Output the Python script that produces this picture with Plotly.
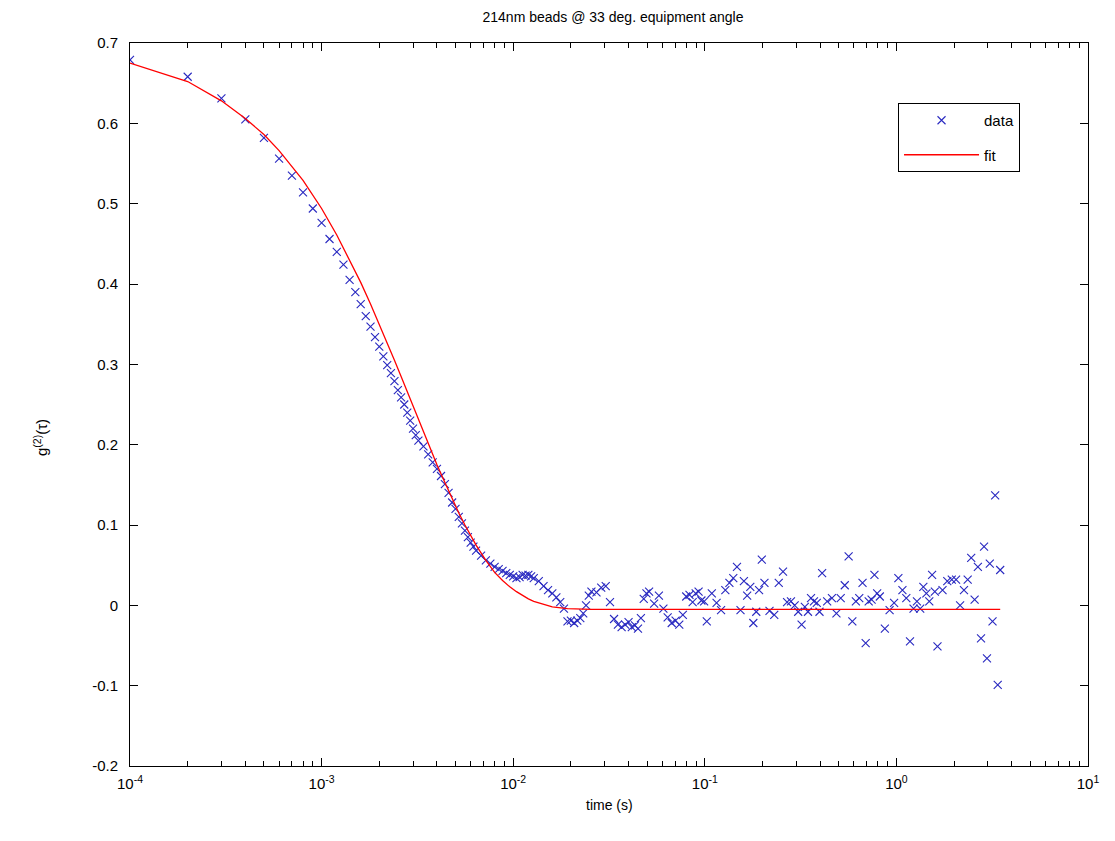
import plotly.graph_objects as go

# lag channels in units of 0.1 ms (multi-tau correlator grid)
lag_data = [1, 2, 3, 4, 5, 6, 7, 8, 9, 10, 11, 12, 13, 14, 15, 16,
            17, 18, 19, 20, 21, 22, 23, 24, 25, 26, 27, 28, 29, 30, 31, 32,
            34, 36, 38, 40, 42, 44, 46, 48, 50, 52, 54, 56, 58, 60, 62, 64,
            68, 72, 76, 80, 84, 88, 92, 96, 100, 104, 108, 112, 116, 120, 124, 128,
            136, 144, 152, 160, 168, 176, 184, 192, 200, 208, 216, 224, 232, 240, 248, 256,
            272, 288, 304, 320, 336, 352, 368, 384, 400, 416, 432, 448, 464, 480, 496, 512,
            544, 576, 608, 640, 672, 704, 736, 768, 800, 832, 864, 896, 928, 960, 992, 1024,
            1088, 1152, 1216, 1280, 1344, 1408, 1472, 1536, 1600, 1664, 1728, 1792, 1856, 1920, 1984, 2048,
            2176, 2304, 2432, 2560, 2688, 2816, 2944, 3072, 3200, 3328, 3456, 3584, 3712, 3840, 3968, 4096,
            4352, 4608, 4864, 5120, 5376, 5632, 5888, 6144, 6400, 6656, 6912, 7168, 7424, 7680, 7936, 8192,
            8704, 9216, 9728, 10240, 10752, 11264, 11776, 12288, 12800, 13312, 13824, 14336, 14848, 15360, 15872, 16384,
            17408, 18432, 19456, 20480, 21504, 22528, 23552, 24576, 25600, 26624, 27648, 28672, 29696, 30720, 31744, 32768,
            33792, 34816]

g2_data = [0.679, 0.658, 0.631, 0.605, 0.582, 0.556, 0.535, 0.514, 0.494, 0.476, 0.456, 0.440, 0.424, 0.405, 0.390, 0.375,
           0.360, 0.347, 0.334, 0.322, 0.310, 0.299, 0.289, 0.279, 0.268, 0.259, 0.250, 0.240, 0.230, 0.220, 0.212, 0.205,
           0.198, 0.188, 0.178, 0.170, 0.161, 0.151, 0.140, 0.128, 0.120, 0.110, 0.102, 0.093, 0.085, 0.078, 0.073, 0.068,
           0.062, 0.056, 0.052, 0.048, 0.045, 0.043, 0.040, 0.038, 0.036, 0.034, 0.035, 0.038, 0.037, 0.038, 0.036, 0.034,
           0.030, 0.024, 0.019, 0.015, 0.010, 0.004, -0.004, -0.020, -0.019, -0.022, -0.019, -0.016, -0.010, 0.000, 0.012, 0.017,
           0.016, 0.022, 0.024, 0.004, -0.017, -0.024, -0.027, -0.024, -0.021, -0.027, -0.025, -0.029, -0.016, 0.008, 0.015, 0.017,
           0.002, 0.012, -0.004, -0.015, -0.022, -0.019, -0.024, -0.012, 0.011, 0.013, 0.004, 0.015, 0.017, 0.006, 0.005, -0.020,
           0.015, 0.003, -0.006, 0.019, 0.028, 0.034, 0.048, -0.006, 0.030, 0.012, 0.023, -0.022, -0.008, 0.019, 0.057, 0.028,
           -0.007, -0.012, 0.028, 0.042, 0.004, 0.005, 0.000, -0.008, -0.024, -0.002, -0.008, 0.009, 0.005, 0.003, -0.008, 0.040,
           0.005, 0.009, -0.010, 0.009, 0.025, 0.061, -0.020, 0.005, 0.009, 0.028, -0.047, 0.005, 0.007, 0.038, 0.015, 0.011,
           -0.029, -0.006, 0.003, 0.034, 0.019, 0.009, -0.045, -0.004, 0.005, -0.004, 0.023, 0.015, 0.005, 0.038, 0.017, -0.051,
           0.019, 0.030, 0.032, 0.032, 0.000, 0.019, 0.032, 0.059, 0.007, 0.048, -0.041, 0.073, -0.066, 0.052, -0.020, 0.137,
           -0.099, 0.044]

lag_fit = [1, 2, 3, 4, 5, 6, 8, 10, 12, 14, 16, 18, 20, 22, 24, 26, 28, 30, 32, 36, 40, 44, 48, 52, 56, 60, 64,
           72, 80, 88, 96, 104, 112, 120, 128, 144, 160, 192, 256, 34816]
g2_fit = [0.675, 0.652, 0.628, 0.606, 0.586, 0.566, 0.529, 0.494, 0.461, 0.430, 0.402, 0.375, 0.350, 0.327, 0.305,
          0.285, 0.266, 0.248, 0.232, 0.202, 0.175, 0.153, 0.133, 0.115, 0.100, 0.087, 0.075,
          0.056, 0.041, 0.031, 0.023, 0.017, 0.012, 0.008, 0.005, 0.001, -0.002, -0.004, -0.005, -0.005]

LAG_UNIT = 1e-4  # seconds per lag unit
t_data = [k * LAG_UNIT for k in lag_data]
t_fit = [k * LAG_UNIT for k in lag_fit]

x_tickvals = [1e-4, 1e-3, 1e-2, 1e-1, 1, 10]
x_ticktext = ["10<sup>-4</sup>", "10<sup>-3</sup>", "10<sup>-2</sup>", "10<sup>-1</sup>",
              "10<sup>0</sup>", "10<sup>1</sup>"]
y_tickvals = [-0.2, -0.1, 0, 0.1, 0.2, 0.3, 0.4, 0.5, 0.6, 0.7]
y_ticktext = ["-0.2", "-0.1", "0", "0.1", "0.2", "0.3", "0.4", "0.5", "0.6", "0.7"]

minor_vals = [m * 10.0 ** e for e in range(-4, 1) for m in range(2, 10)]

FONT = "Liberation Sans, Arial, sans-serif"
BLUE = "#2828c0"

fig = go.Figure()
fig.add_trace(go.Scatter(
    x=t_data, y=g2_data, mode="markers", name="data", legendgroup="a",
    marker=dict(symbol="x-thin-open", size=8, color=BLUE,
                line=dict(width=1.1, color=BLUE)),
))
fig.add_trace(go.Scatter(
    x=t_fit, y=g2_fit, mode="lines", name="fit", legendgroup="b",
    line=dict(color="#ff0000", width=1.3),
))

axis_common = dict(
    showline=True, linecolor="black", linewidth=1, mirror="allticks",
    ticks="inside", ticklen=8, tickcolor="black", tickwidth=1,
    showgrid=False, zeroline=False,
    tickfont=dict(family=FONT, size=15, color="black"),
)

fig.update_xaxes(
    type="log", range=[-4, 1], tickmode="array",
    tickvals=x_tickvals, ticktext=x_ticktext, ticklabelstandoff=4,
    minor=dict(ticks="inside", ticklen=5, tickcolor="black", tickmode="array",
               tickvals=minor_vals, showgrid=False),
    **axis_common,
)
fig.update_yaxes(
    range=[-0.2, 0.7], tickmode="array", tickvals=y_tickvals, ticktext=y_ticktext,
    ticklabelstandoff=8,
    **axis_common,
)

fig.update_layout(
    width=1107, height=833,
    margin=dict(l=122, r=27, t=35, b=75),
    paper_bgcolor="white", plot_bgcolor="white",
    font=dict(family=FONT, size=14, color="black"),
    title=dict(text="214nm beads @ 33 deg. equipment angle", x=0.5465, xanchor="center",
               y=0.989, yanchor="middle", font=dict(family=FONT, size=14, color="black")),
    showlegend=True,
    legend=dict(x=0.8017, y=0.917, xanchor="left", yanchor="top",
                bordercolor="black", borderwidth=1, bgcolor="white",
                font=dict(family=FONT, size=15, color="black"), itemwidth=75,
                entrywidth=64, tracegroupgap=12),
    annotations=[
        dict(text="time (s)", xref="paper", yref="paper", x=0.5, y=-0.054,
             xanchor="center", yanchor="middle", showarrow=False,
             font=dict(family=FONT, size=14, color="black")),
        dict(text="g<sup>(2)</sup>(τ)", xref="paper", yref="paper", x=-0.094, y=0.455,
             xanchor="center", yanchor="middle", showarrow=False, textangle=-90,
             font=dict(family=FONT, size=15, color="black")),
    ],
)

fig.write_html("out.html")
